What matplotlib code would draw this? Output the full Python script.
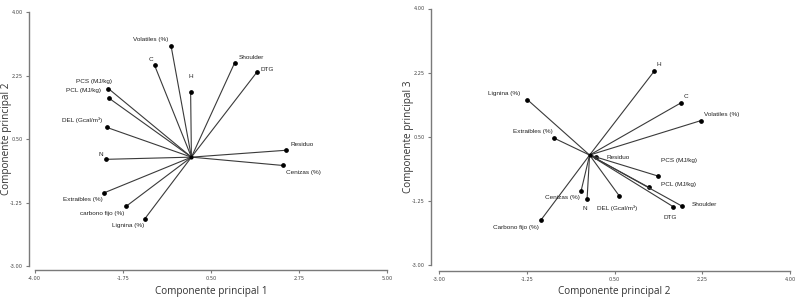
import matplotlib
matplotlib.use("Agg")
import matplotlib.pyplot as plt

# Componente principal 1 vs 2
vars_12 = ["Volatiles (%)", "C", "H", "PCS (MJ/kg)", "PCL (MJ/kg)", "DEL (Gcal/m³)",
           "Shoulder", "DTG", "Residuo", "Cenizas (%)", "N", "Extraibles (%)",
           "carbono fijo (%)", "Lignina (%)"]
cp1 = [-0.52, -0.94, -0.02, -2.12, -2.11, -2.16, 1.10, 1.67, 2.42, 2.34, -2.17, -2.22, -1.66, -1.19]
cp2 = [3.07, 2.53, 1.80, 1.89, 1.63, 0.82, 2.59, 2.34, 0.19, -0.23, -0.06, -0.98, -1.35, -1.70]

# Componente principal 2 vs 3
vars_23 = ["H", "C", "Volatiles (%)", "Lignina (%)", "Extraibles (%)", "Cenizas (%)", "N",
           "Carbono fijo (%)", "Residuo", "PCS (MJ/kg)", "PCL (MJ/kg)", "Shoulder", "DTG",
           "DEL (Gcal/m³)"]
cp2b = [1.29, 1.83, 2.22, -1.24, -0.72, -0.17, -0.05, -0.97, 0.12, 1.36, 1.18, 1.84, 1.67, 0.59]
cp3 = [2.29, 1.43, 0.94, 1.51, 0.47, -0.98, -1.19, -1.77, -0.05, -0.57, -0.88, -1.39, -1.41, -1.11]

ticks_1 = [-4.00, -1.75, 0.50, 2.75, 5.00]
ticks_2 = [-3.00, -1.25, 0.50, 2.25, 4.00]

# label placement: (ha, dx px, dy px)
lab_12 = [("right", -3, 6), ("center", -4, 6), ("center", 0, 15), ("right", 4, 7),
          ("right", -8, 7), ("right", -5, 7), ("left", 4, 6), ("left", 4, 3),
          ("left", 4, 6), ("left", 3, -7), ("center", -6, 5), ("right", -2, -7),
          ("right", -2, -7), ("right", -1, -7)]
lab_23 = [("center", 5, 7), ("center", 5, 6), ("left", 3, 6), ("right", -7, 6),
          ("right", -1, 6), ("right", -1, -7), ("center", -2, -10), ("right", -2, -8),
          ("left", 11, -1), ("left", 3, 15), ("left", 12, 3), ("left", 10, 2),
          ("center", -3, -11), ("center", -2, -12)]

W, H = 800, 300
fig = plt.figure(figsize=(8, 3), dpi=100)

def biplot(rect, xs, ys, names, labs, xticks, yticks, xlabel, ylabel, xoff, yoff, ylab_x):
    ax = fig.add_axes(rect)
    for x, y, name, (ha, dx, dy) in zip(xs, ys, names, labs):
        ax.plot([0, x], [0, y], color="#3a3a3a", lw=0.8)
        ax.plot(x, y, "o", color="black", ms=2.4)
        ax.annotate(name, (x, y), xytext=(dx, dy), textcoords="offset pixels",
                    ha=ha, va="center", fontsize=4.6, family="Liberation Sans",
                    color="#222222")
    ax.plot(0, 0, "o", color="black", ms=2)
    ax.set_xlim(xticks[0], xticks[-1])
    ax.set_ylim(yticks[0], yticks[-1])
    ax.set_xticks(xticks)
    ax.set_yticks(yticks)
    ax.set_xticklabels([f"{t:.2f}" for t in xticks])
    ax.set_yticklabels([f"{t:.2f}" for t in yticks])
    for s in ["top", "right"]:
        ax.spines[s].set_visible(False)
    ax.spines["left"].set_position(("outward", yoff))
    ax.spines["bottom"].set_position(("outward", xoff))
    for s in ["left", "bottom"]:
        ax.spines[s].set_color("#7a7a7a")
        ax.spines[s].set_linewidth(1.0)
    ax.tick_params(length=2.5, width=0.8, color="#7a7a7a", labelsize=3.6,
                   labelcolor="#444444", pad=2)
    ax.set_xlabel(xlabel, family="Open Sans", fontsize=7.2, color="#333333", labelpad=3)
    ax.set_ylabel(ylabel, family="Open Sans", fontsize=7.2, color="#333333")
    ax.yaxis.set_label_coords(ylab_x, 0.5)
    ax.patch.set_alpha(0)
    return ax

biplot([34.7 / W, (300 - 266) / H, (387.3 - 34.7) / W, (266 - 12) / H],
       cp1, cp2, vars_12, lab_12, ticks_1, ticks_2,
       "Componente principal 1", "Componente principal 2", 3, 4, -0.063)
biplot([439.3 / W, (300 - 265) / H, (790 - 439.3) / W, (265 - 8.5) / H],
       cp2b, cp3, vars_23, lab_23, ticks_2, ticks_2,
       "Componente principal 2", "Componente principal 3", 4, 6, -0.072)

fig.savefig("out.png", dpi=100)
